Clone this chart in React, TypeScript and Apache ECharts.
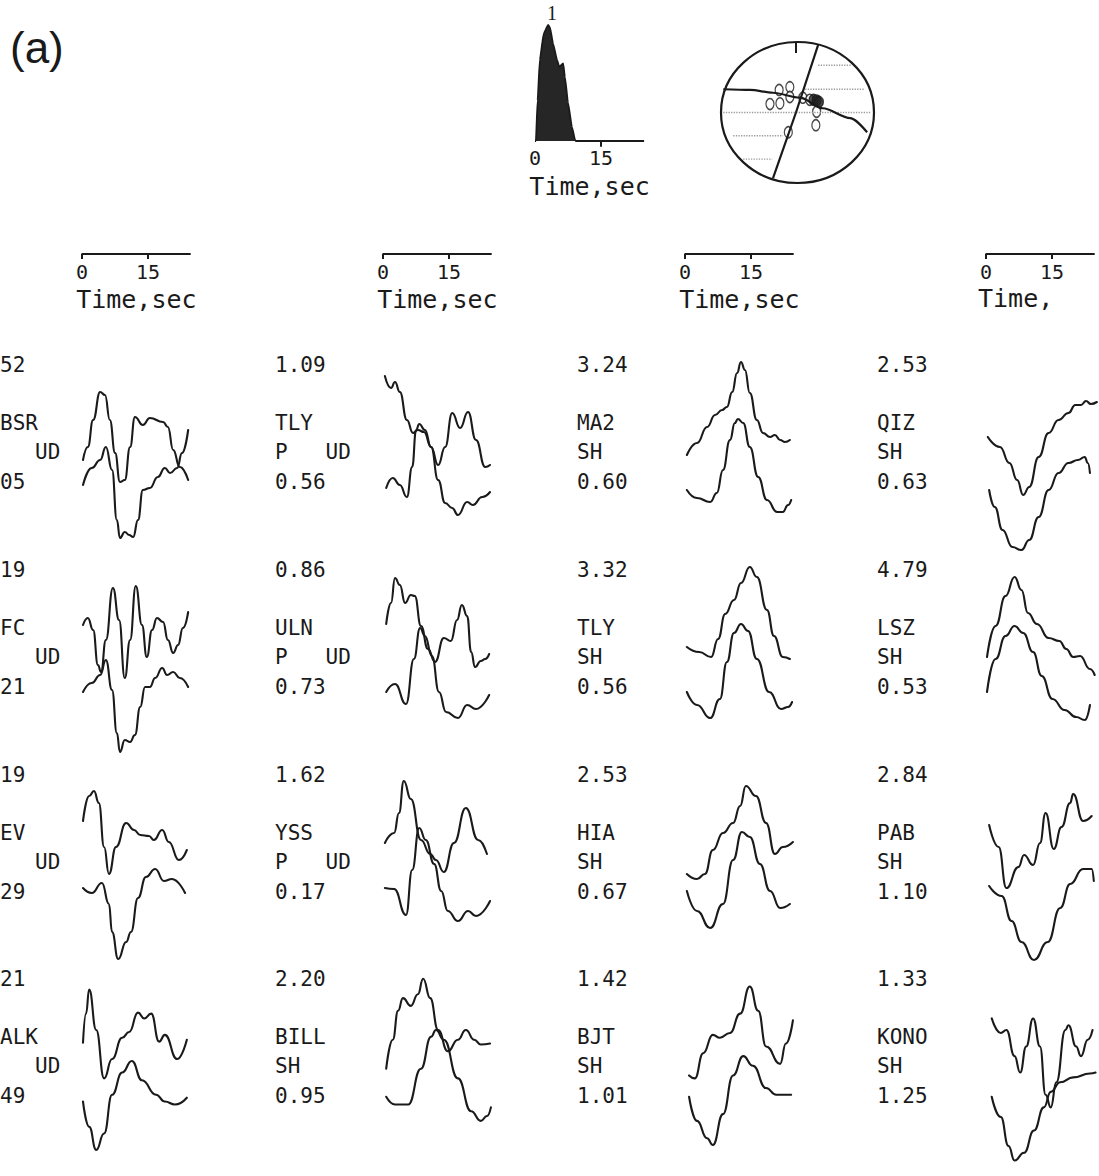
import React, { useEffect, useRef } from 'react';
import * as echarts from 'echarts';

type Pt = [number, number];

// ---- waveform traces: [time (s), amplitude (arbitrary, upward +)] ----
const bsrUpper: Pt[] = [[0,-10],[1.1,3],[2.3,30],[3.9,58],[5.0,55],[6.1,30],[7.3,-3],[8.4,-32],[9.5,-30],[10.7,3],[11.8,33],[13.6,25],[15.2,32],[18.2,28],[19.3,23],[20.5,0],[22.0,-17],[23.9,-30]];
const bsrLower: Pt[] = [[0,-35],[2.0,-18],[3.9,-10],[5.2,3],[6.6,-20],[7.7,-70],[8.4,-88],[9.5,-82],[10.5,-85],[11.4,-87],[12.5,-70],[13.6,-40],[15.2,-38],[17.0,-27],[18.6,-18],[19.8,-23],[21.4,-18],[22.5,-3],[23.9,20]];
const tlyPUpper: Pt[] = [[0.2,74],[1.6,62],[2.5,68],[3.6,58],[5.2,30],[6.6,17],[7.7,20],[9.1,18],[10.7,3],[12.3,-15],[13.9,3],[15.5,37],[17.3,22],[19.1,38],[20.9,10],[23.0,-17],[24.1,-15]];
const tlyPLower: Pt[] = [[0.5,-38],[2.0,-28],[3.6,-35],[5.2,-47],[6.4,-17],[7.3,20],[8.0,26],[9.3,20],[10.7,3],[12.3,-30],[13.9,-53],[15.5,-58],[16.8,-65],[18.9,-52],[20.2,-55],[22.3,-47],[24.1,-42]];
const ma2Upper: Pt[] = [[0.2,-5],[2.5,7],[4.8,23],[6.6,35],[8.2,40],[9.3,43],[10.5,58],[11.6,77],[12.5,88],[13.4,80],[14.5,57],[16.1,30],[17.5,17],[19.1,13],[20.2,15],[21.4,10],[22.5,8],[23.6,10]];
const ma2Lower: Pt[] = [[0.2,-40],[2.5,-48],[5.5,-52],[7.0,-43],[8.4,-20],[10.0,10],[11.1,27],[11.8,31],[13.0,27],[14.5,3],[16.4,-27],[18.4,-50],[20.7,-62],[22.0,-62],[23.2,-55],[23.9,-50]];
const qizUpper: Pt[] = [[0.2,13],[3.0,3],[5.2,-13],[7.0,-30],[8.4,-45],[9.8,-37],[12.0,-7],[14.3,17],[16.6,30],[18.9,37],[20.5,45],[21.8,45],[23.0,49],[24.1,46],[25.5,48]];
const qizLower: Pt[] = [[0.5,-40],[1.8,-57],[3.6,-80],[5.9,-97],[8.0,-100],[9.8,-90],[12.0,-67],[14.3,-40],[16.6,-23],[18.9,-13],[21.1,-10],[22.7,-7],[23.4,-13],[23.9,-23]];

const fcUpper: Pt[] = [[0,30],[1.1,37],[2.3,25],[3.4,-10],[4.1,-17],[5.2,15],[6.8,67],[8.2,35],[9.5,-23],[10.7,15],[12.0,69],[13.4,30],[14.5,-2],[15.7,25],[16.8,37],[18.2,33],[19.3,15],[20.5,2],[21.6,10],[22.7,27],[23.9,43]];
const fcLower: Pt[] = [[0,-37],[2.0,-28],[3.9,-20],[5.2,-5],[6.6,-35],[7.7,-78],[8.4,-97],[9.5,-85],[10.7,-87],[11.8,-80],[13.0,-52],[14.1,-32],[15.2,-32],[16.4,-23],[18.0,-13],[19.1,-20],[20.5,-17],[22.0,-23],[23.9,-32]];
const ulnUpper: Pt[] = [[0.5,31],[1.6,52],[2.5,77],[3.6,70],[4.8,52],[6.1,60],[7.0,59],[8.4,29],[10.0,6],[11.6,-7],[13.6,17],[15.2,14],[16.6,35],[17.7,50],[18.9,39],[19.8,3],[20.7,-12],[22.0,-6],[23.0,-4],[23.9,1]];
const ulnLower: Pt[] = [[0.5,-37],[2.5,-29],[5.0,-49],[6.8,-4],[8.2,27],[9.3,19],[10.9,-1],[12.5,-37],[14.1,-57],[16.8,-63],[18.9,-50],[20.9,-54],[23.9,-40]];
const tlySUpper: Pt[] = [[0.2,8],[3.0,3],[5.7,-2],[7.3,16],[8.9,41],[10.9,55],[12.5,72],[14.5,88],[16.1,78],[18.4,45],[20.0,19],[22.0,-2],[23.6,-4]];
const tlySLower: Pt[] = [[0.2,-37],[2.5,-50],[5.5,-63],[7.7,-44],[9.3,-7],[10.9,22],[12.5,31],[14.1,24],[16.1,-4],[18.9,-37],[21.6,-54],[23.2,-52],[24.1,-47]];
const lszUpper: Pt[] = [[0,-2],[2.0,29],[4.3,59],[6.4,78],[8.0,65],[9.5,42],[11.6,31],[14.3,17],[16.8,14],[18.4,6],[20.0,-2],[21.6,-1],[23.9,-14],[25.0,-20]];
const lszLower: Pt[] = [[0,-37],[2.0,-4],[4.3,19],[6.4,29],[8.4,22],[10.7,3],[12.7,-21],[15.2,-44],[18.0,-55],[20.7,-62],[22.7,-65],[23.9,-50]];

const evUpper: Pt[] = [[0,39],[1.4,64],[2.5,69],[3.6,57],[4.8,13],[5.9,-14],[7.5,13],[9.8,37],[11.6,30],[13.0,25],[15.0,24],[16.1,20],[18.0,30],[19.5,18],[21.8,0],[23.6,10]];
const evLower: Pt[] = [[0,-28],[2.0,-33],[4.3,-23],[5.9,-44],[6.6,-72],[8.0,-99],[9.8,-82],[10.9,-72],[12.5,-38],[14.3,-17],[16.4,-9],[18.4,-21],[20.2,-19],[23.2,-33]];
const yssUpper: Pt[] = [[0.2,17],[2.3,27],[3.4,47],[4.5,79],[6.1,61],[8.4,20],[10.5,6],[11.8,0],[13.6,-12],[15.9,17],[18.6,52],[21.4,20],[23.4,6]];
const yssLower: Pt[] = [[0.2,-28],[2.3,-29],[5.0,-55],[6.4,-10],[8.0,32],[9.5,20],[11.4,-4],[13.0,-31],[14.5,-51],[16.8,-61],[19.1,-51],[20.9,-56],[24.1,-41]];
const hiaUpper: Pt[] = [[0.2,-14],[2.5,-19],[4.3,-14],[6.1,10],[8.4,27],[10.7,37],[12.3,54],[13.6,74],[15.9,64],[18.2,37],[20.2,6],[22.0,13],[24.3,18]];
const hiaLower: Pt[] = [[0.2,-31],[2.5,-51],[5.5,-68],[8.4,-44],[10.7,0],[12.7,28],[14.5,23],[16.8,-4],[19.1,-31],[21.4,-48],[23.6,-44]];
const pabUpper: Pt[] = [[0.5,35],[2.7,13],[4.5,-28],[7.3,-7],[8.6,5],[10.7,-5],[12.3,17],[13.6,47],[15.5,11],[17.3,33],[19.3,57],[20.0,66],[22.3,39],[24.3,44]];
const pabLower: Pt[] = [[0.5,-26],[3.4,-36],[5.7,-61],[8.0,-82],[10.9,-100],[14.1,-82],[17.0,-48],[19.3,-24],[22.3,-9],[24.3,-9],[24.8,-21]];

const alkUpper: Pt[] = [[0,18],[0.7,48],[1.4,73],[3.0,31],[4.8,-19],[6.6,1],[8.9,23],[10.5,29],[12.5,49],[13.9,43],[15.5,48],[17.3,19],[18.6,26],[21.4,1],[23.6,21]];
const alkLower: Pt[] = [[0,-43],[1.4,-69],[3.0,-93],[4.8,-76],[6.6,-36],[8.9,-13],[11.1,-1],[13.4,-21],[16.6,-36],[18.6,-43],[20.9,-46],[23.6,-39]];
const billUpper: Pt[] = [[0.5,-9],[2.0,21],[3.2,51],[4.3,64],[6.1,56],[7.7,68],[8.9,84],[10.5,64],[12.3,31],[14.5,9],[16.8,21],[18.6,31],[20.5,21],[22.0,16],[24.1,17]];
const billLower: Pt[] = [[0.5,-38],[2.5,-46],[5.5,-46],[8.4,-9],[10.7,24],[11.8,31],[13.6,21],[16.8,-19],[19.8,-53],[22.0,-63],[23.4,-58],[24.3,-49]];
const bjtUpper: Pt[] = [[0.7,-16],[2.0,-19],[3.9,7],[6.1,26],[7.7,23],[10.0,28],[12.3,48],[14.5,76],[16.4,51],[18.2,14],[21.4,-4],[22.7,17],[24.3,41]];
const bjtLower: Pt[] = [[0.7,-38],[2.5,-63],[4.8,-81],[6.1,-88],[8.4,-56],[10.7,-16],[13.0,4],[15.2,-6],[18.2,-29],[20.5,-36],[22.7,-36],[23.9,-36]];
const konoUpper: Pt[] = [[1.1,43],[3.2,28],[4.5,31],[6.4,4],[7.7,-13],[9.1,14],[10.7,43],[12.3,14],[13.6,-36],[14.8,-49],[16.1,-23],[18.2,31],[18.9,36],[20.7,14],[21.8,4],[23.4,21],[24.5,31]];
const konoLower: Pt[] = [[1.1,-38],[3.2,-59],[5.0,-89],[6.4,-104],[8.6,-96],[10.9,-73],[13.2,-49],[14.8,-33],[17.0,-23],[20.0,-18],[23.9,-14],[25.2,-13]];

// ---- panel labels (row-major, 4 columns) ----
const stations = ['BSR', 'TLY', 'MA2', 'QIZ', 'FC', 'ULN', 'TLY', 'LSZ', 'EV', 'YSS', 'HIA', 'PAB', 'ALK', 'BILL', 'BJT', 'KONO'];
const components = ['UD', 'P   UD', 'SH', 'SH', 'UD', 'P   UD', 'SH', 'SH', 'UD', 'P   UD', 'SH', 'SH', 'UD', 'SH', 'SH', 'SH'];
const upperAmps = ['52', '1.09', '3.24', '2.53', '19', '0.86', '3.32', '4.79', '19', '1.62', '2.53', '2.84', '21', '2.20', '1.42', '1.33'];
const lowerAmps = ['05', '0.56', '0.60', '0.63', '21', '0.73', '0.56', '0.53', '29', '0.17', '0.67', '1.10', '49', '0.95', '1.01', '1.25'];

// ---- time scale bars ----
const scaleTicks = [0, 15];
const scaleLength = 24.7;
const scaleTitle = 'Time,sec';

// ---- source time function (normalised) ----
const stf: Pt[] = [[0,0],[0.2,0],[0.6,0.35],[1.1,0.7],[2.0,0.93],[3.0,1.0],[3.4,0.98],[4.1,0.84],[5.0,0.7],[5.5,0.64],[6.4,0.67],[6.8,0.55],[7.5,0.33],[8.4,0.12],[9.1,0.01],[9.3,0],[24.8,0]];
const stfPeakLabel = '1';

// ---- focal mechanism (normalised lower-hemisphere coords) ----
const nodalA: Pt[] = [[0.27,0.96],[-0.02,0.0],[-0.32,-0.93]];
const nodalB: Pt[] = [[-0.97,0.33],[-0.62,0.32],[-0.32,0.28],[0.03,0.21],[0.33,0.06],[0.69,-0.08],[0.91,-0.28]];
const hatchLines: Pt[][] = [
  [[0.27,0.67],[0.71,0.67]],
  [[0.10,0.33],[0.88,0.33]],
  [[-0.97,0],[0.96,0]],
  [[-0.84,-0.33],[-0.19,-0.33]],
  [[-0.71,-0.66],[-0.33,-0.66]],
];
const stationsOpen: Pt[] = [[-0.24,0.32],[-0.10,0.36],[-0.36,0.12],[-0.23,0.13],[-0.10,0.22],[0.07,0.21],[0.16,0.18],[0.25,0.01],[0.24,-0.18],[-0.12,-0.28]];
const stationsDark: Pt[] = [[0.21,0.18],[0.25,0.17],[0.28,0.15]];

const uppers = [bsrUpper, tlyPUpper, ma2Upper, qizUpper, fcUpper, ulnUpper, tlySUpper, lszUpper, evUpper, yssUpper, hiaUpper, pabUpper, alkUpper, billUpper, bjtUpper, konoUpper];
const lowers = [bsrLower, tlyPLower, ma2Lower, qizLower, fcLower, ulnLower, tlySLower, lszLower, evLower, yssLower, hiaLower, pabLower, alkLower, billLower, bjtLower, konoLower];

const MONO = "'DejaVu Sans Mono', 'Liberation Mono', monospace";
const INK = '#1a1a1a';
const PX_PER_S = 4.4;
const colX0 = [83, 384, 686, 987];
const colText = [0, 275, 577, 877];
const rowC = [450, 655, 860, 1064];

export default function App() {
  const ref = useRef<HTMLDivElement>(null);
  useEffect(() => {
    if (!ref.current) return;
    const chart = echarts.init(ref.current, null, { renderer: 'svg' });
    const grid: any[] = [];
    const xAxis: any[] = [];
    const yAxis: any[] = [];
    const series: any[] = [];
    const graphic: any[] = [];
    const hidden = { show: false };

    const addGrid = (g: any, xa: any, ya: any) => {
      const i = grid.length;
      grid.push({ ...g, containLabel: false });
      xAxis.push({ type: 'value', gridIndex: i, splitLine: hidden, axisTick: hidden, ...xa });
      yAxis.push({ type: 'value', gridIndex: i, splitLine: hidden, axisTick: hidden, ...ya });
      return i;
    };
    const line = (i: number, data: Pt[], extra: any = {}) => {
      series.push({
        type: 'line', xAxisIndex: i, yAxisIndex: i, data, symbol: 'none', clip: false,
        smooth: 0.5, smoothMonotone: 'x',
        lineStyle: { color: INK, width: 2.1, cap: 'round', join: 'round' }, silent: true, ...extra,
      });
    };
    const text = (x: number, y: number, t: string, size = 21, family = MONO, align = 'left') => {
      graphic.push({
        type: 'text', x, y, silent: true,
        style: { text: t, fill: INK, fontSize: size, fontFamily: family, textAlign: align, textVerticalAlign: 'middle', align, verticalAlign: 'middle' },
      });
    };

    // waveform panels
    for (let r = 0; r < 4; r++) {
      for (let c = 0; c < 4; c++) {
        const k = r * 4 + c;
        const i = addGrid(
          { left: colX0[c], top: rowC[r] - 120, width: 26 * PX_PER_S, height: 240 },
          { min: 0, max: 26, show: false },
          { min: -120, max: 120, show: false },
        );
        line(i, uppers[k]);
        line(i, lowers[k]);
        const tx = colText[c];
        text(tx, rowC[r] - 85, upperAmps[k]);
        text(tx, rowC[r] - 27, stations[k]);
        text(c === 0 ? 35 : tx, rowC[r] + 2, components[k]);
        text(tx, rowC[r] + 32, lowerAmps[k]);
      }
    }

    // scale bars above the columns
    for (let c = 0; c < 4; c++) {
      const i = addGrid(
        { left: colX0[c] - 1, top: 254, width: scaleLength * PX_PER_S, height: 5 },
        {
          min: 0, max: scaleLength, interval: 15,
          axisLine: { show: false, onZero: false },
          axisLabel: {
            show: true, margin: 3, fontFamily: MONO, fontSize: 20, color: INK,
            formatter: (v: number) => (scaleTicks.includes(v) ? String(v) : ''),
          },
          name: c === 3 ? '' : scaleTitle, nameLocation: 'middle', nameGap: 28,
          nameTextStyle: { fontFamily: MONO, fontSize: 25, color: INK },
        },
        { min: -1, max: 0, show: false },
      );
      line(i, [[0, -1], [0, 0], [scaleLength, 0]], { smooth: false, lineStyle: { color: INK, width: 2 } });
      line(i, [[15, 0], [15, -1]], { smooth: false, lineStyle: { color: INK, width: 2 } });
    }
    text(978, 298, 'Time,', 25);

    // source time function
    {
      const i = addGrid(
        { left: 535, top: 25, width: 24.8 * PX_PER_S, height: 1.05 * 116 },
        {
          min: 0, max: 24.8, interval: 15,
          axisLine: { show: false, onZero: false },
          axisLabel: {
            show: true, margin: 1, fontFamily: MONO, fontSize: 20, color: INK,
            formatter: (v: number) => (scaleTicks.includes(v) ? String(v) : ''),
          },
          name: scaleTitle, nameLocation: 'middle', nameGap: 27,
          nameTextStyle: { fontFamily: MONO, fontSize: 25, color: INK },
        },
        { min: -0.05, max: 1.0, show: false },
      );
      line(i, stf, { smooth: 0.15, lineStyle: { color: INK, width: 1.8 }, areaStyle: { color: '#151515', opacity: 0.93 } });
      line(i, [[15, 0], [15, -0.05]], { smooth: false, lineStyle: { color: INK, width: 2 } });
      text(552, 13, stfPeakLabel, 20, "'Liberation Serif', serif", 'center');
    }

    // focal mechanism
    {
      const i = addGrid(
        { left: 721, top: 42, width: 153, height: 141 },
        { min: -1, max: 1, show: false },
        { min: -1, max: 1, show: false },
      );
      hatchLines.forEach((h) => line(i, h, { smooth: false, lineStyle: { color: '#9a9a9a', width: 1.3, type: 'dotted' } }));
      line(i, nodalA, { smooth: false, lineStyle: { color: INK, width: 2.2 } });
      line(i, nodalB, { smooth: 0.3, lineStyle: { color: INK, width: 2.2 } });
      series.push({
        type: 'scatter', xAxisIndex: i, yAxisIndex: i, data: stationsOpen, symbol: 'circle', symbolSize: [8, 11], silent: true,
        itemStyle: { color: '#fff', borderColor: INK, borderWidth: 1.4 },
      });
      series.push({
        type: 'scatter', xAxisIndex: i, yAxisIndex: i, data: stationsDark, symbol: 'circle', symbolSize: [9, 11], silent: true,
        itemStyle: { color: '#222', borderColor: INK, borderWidth: 1.4 },
      });
      graphic.push({ type: 'ellipse', silent: true, shape: { cx: 797.5, cy: 112.5, rx: 76.5, ry: 70.5 }, style: { fill: 'none', stroke: INK, lineWidth: 2.2 } });
      graphic.push({ type: 'line', silent: true, shape: { x1: 796, y1: 42, x2: 796, y2: 53 }, style: { stroke: INK, lineWidth: 2 } });
    }

    text(10, 47, '(a)', 44, "'Liberation Sans', Arial, sans-serif");

    chart.setOption({
      animation: false,
      backgroundColor: '#ffffff',
      grid, xAxis, yAxis, series,
      graphic: { elements: graphic },
    });
    return () => chart.dispose();
  }, []);
  return <div ref={ref} style={{ position: 'fixed', left: 0, top: 0, width: 1099, height: 1176, background: '#fff' }} />;
}
